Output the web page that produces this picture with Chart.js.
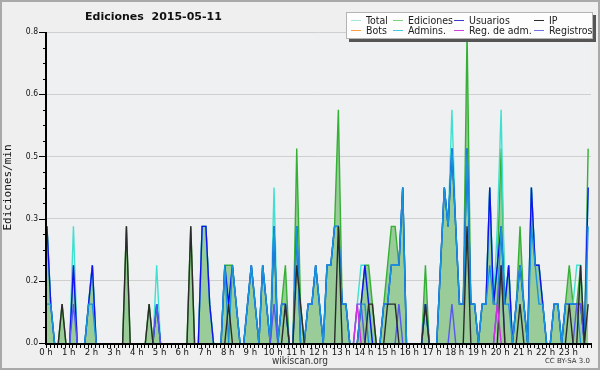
<!DOCTYPE html>
<html>
<head>
<meta charset="utf-8">
<script src="https://cdn.jsdelivr.net/npm/chart.js@4/dist/chart.umd.min.js"></script>
<style>
  html, body { margin: 0; padding: 0; background: #efefef; }
  #wrap { position: relative; width: 600px; height: 370px; overflow: hidden; }
  #chart { position: absolute; left: 0; top: 0; }
  #frame { position: absolute; left: 0; top: 0; width: 600px; height: 370px; box-sizing: border-box;
           border: 2px solid #a9a9a9; pointer-events: none; }
  #title { position: absolute; left: 85px; top: 10px; font: bold 11px "DejaVu Sans", sans-serif;
           white-space: pre; color: #111; }
  #legend { position: absolute; left: 346px; top: 12px; width: 245px; height: 25px; background: #fdfdfd;
            border: 1px solid #b4b4b4; box-shadow: 3px 3px 0 #555; }
  .sw { position: absolute; width: 10px; height: 1px; }
  .lt { position: absolute; font: 10.5px "DejaVu Sans Condensed", "Liberation Sans", sans-serif;
        font-stretch: condensed; color: #222; line-height: 10px; white-space: nowrap; }
  #site { position: absolute; left: 0; width: 600px; top: 355px; text-align: center;
          font: 10px "DejaVu Sans Condensed", "Liberation Sans", sans-serif; font-stretch: condensed; color: #333; }
  #lic { position: absolute; right: 10px; top: 357px; font: 7px "DejaVu Sans", sans-serif; color: #333; }
</style>
</head>
<body>
<div id="wrap">
  <canvas id="chart" width="600" height="370"></canvas>
  <div id="title">Ediciones  2015-05-11</div>
  <div id="legend"></div>
  <div id="site">wikiscan.org</div>
  <div id="lic">CC BY-SA 3.0</div>
  <div id="frame"></div>
</div>
<script>
// 10-minute bins, 6 per hour, 144 per day
const hourLabels = ['0 h','1 h','2 h','3 h','4 h','5 h','6 h','7 h','8 h','9 h','10 h','11 h',
  '12 h','13 h','14 h','15 h','16 h','17 h','18 h','19 h','20 h','21 h','22 h','23 h'];
const binsPerHour = 6;
const binOffset = 0.25;

const ediciones = [
  .3,.1,0,0,.1,0, 0,.2,0,0,0,.1, .2,0,0,0,0,0, 0,0,0,.3,0,0,
  0,0,0,.1,0,.1, 0,0,0,0,0,0, 0,0,.3,0,0,.3, .3,.1,0,0,0,.2,
  .2,.2,.1,0,0,.1, .2,.1,0,.2,.1,0, .3,0,.1,.2,0,0, .5,.1,0,.1,.1,.2,
  .1,0,.2,.2,.3,.6, .1,.1,0,0,0,.1, .2,.2,.1,0,0,.1, .2,.3,.3,.2,.4,0,
  0,0,0,0,.2,0, 0,0,.2,.4,.3,.5, .3,.1,.1,.8,.1,.1, 0,.1,.1,.4,.1,.2,
  .5,.1,.2,0,.1,.3, .1,0,.4,.2,.2,.1, 0,0,.1,.1,0,.1, .2,.1,.1,.2,0,.5
];
const total = [
  .3,.1,0,0,0,0, 0,.3,0,0,0,.1, .2,0,0,0,0,0, 0,0,0,0,0,0,
  0,0,0,0,0,.2, 0,0,0,0,0,0, 0,0,0,0,0,.3, .3,.1,0,0,0,.2,
  .1,.2,.1,0,0,.1, .2,.1,0,.2,.1,0, .4,0,.1,.1,0,0, .3,0,0,.1,.1,.2,
  .1,0,.2,.2,.3,.3, .1,.1,0,0,.1,.2, .2,.1,0,0,0,.1, .1,.2,.2,.2,.4,0,
  0,0,0,0,.1,0, 0,0,.2,.4,.3,.6, .3,.1,.1,.5,.1,.1, 0,.1,.1,.4,.1,.3,
  .6,.1,.2,0,.1,.2, .1,0,.4,.2,.2,.1, 0,0,.1,.1,0,.1, .1,.1,.2,.2,0,.4
];
const usuarios = [
  .3,.1,0,0,0,0, 0,.2,0,0,0,.1, .2,0,0,0,0,0, 0,0,0,0,0,0,
  0,0,0,0,0,.1, 0,0,0,0,0,0, 0,0,0,0,0,.3, .3,.1,0,0,0,.2,
  .1,.2,.1,0,0,.1, .2,.1,0,.2,.1,0, .3,0,.1,.1,0,0, .3,0,0,.1,.1,.2,
  .1,0,.2,.2,.3,.3, .1,.1,0,0,0,.1, .2,.1,0,0,0,.1, .1,.2,.2,.2,.4,0,
  0,0,0,0,.1,0, 0,0,.2,.4,.3,.5, .3,.1,.1,.5,.1,.1, 0,.1,.1,.4,.1,.2,
  .3,.1,.2,0,.1,.2, .1,0,.4,.2,.2,.1, 0,0,.1,.1,0,.1, .1,.1,.1,.1,0,.4
];
const ip = [
  0,0,0,0,.1,0, 0,0,0,0,0,0, 0,0,0,0,0,0, 0,0,0,.3,0,0,
  0,0,0,.1,0,0, 0,0,0,0,0,0, 0,0,.3,0,0,0, 0,0,0,0,0,0,
  .1,0,0,0,0,0, 0,0,0,0,0,0, 0,0,0,.1,0,0, .2,.1,0,0,0,0,
  0,0,0,0,0,.3, 0,0,0,0,0,0, 0,.1,.1,0,0,0, .1,.1,.1,0,0,0,
  0,0,0,0,.1,0, 0,0,0,0,0,0, 0,0,0,.3,0,0, 0,0,0,0,0,0,
  .2,0,0,0,0,.1, 0,0,0,0,0,0, 0,0,0,0,0,0, .1,0,0,.2,0,.1
];
const admins = [
  .1,.1,0,0,0,0, 0,0,0,0,0,.1, .1,0,0,0,0,0, 0,0,0,0,0,0,
  0,0,0,0,0,0, 0,0,0,0,0,0, 0,0,0,0,0,0, 0,0,0,0,0,.2,
  0,.2,.1,0,0,.1, .2,.1,0,.2,.1,0, .3,0,.1,.1,0,0, .3,0,0,.1,.1,.2,
  .1,0,.2,.2,.3,.3, .1,.1,0,0,0,.1, .1,0,0,0,0,.1, .1,.2,.2,.2,.4,0,
  0,0,0,0,.1,0, 0,0,.2,.4,.3,.5, .3,.1,.1,.5,.1,.1, 0,.1,.1,.2,.1,.1,
  .3,.1,.1,0,.1,.2, .1,0,.3,.2,.1,.1, 0,0,.1,.1,0,.1, .1,.1,.1,0,0,.3
];
const registros = [
  0,0,0,0,0,0, 0,.1,0,0,0,0, 0,0,0,0,0,0, 0,0,0,0,0,0,
  0,0,0,0,0,.1, 0,0,0,0,0,0, 0,0,0,0,0,0, 0,0,0,0,0,0,
  0,0,0,0,0,0, 0,0,0,0,0,0, .1,0,0,0,0,0, 0,0,0,0,0,0,
  0,0,0,0,0,0, 0,0,0,0,.1,.1, 0,0,0,0,0,0, 0,0,0,.1,0,0,
  0,0,0,0,0,0, 0,0,0,0,0,.1, 0,0,0,0,0,0, 0,0,0,0,0,.1,
  .2,0,0,0,0,0, 0,0,0,0,0,0, 0,0,0,0,0,0, 0,0,.1,.1,0,0
];
const regAdm = [
  0,0,0,0,0,0, 0,0,0,0,0,0, 0,0,0,0,0,0, 0,0,0,0,0,0,
  0,0,0,0,0,0, 0,0,0,0,0,0, 0,0,0,0,0,0, 0,0,0,0,0,0,
  0,0,0,0,0,0, 0,0,0,0,0,0, 0,0,0,0,0,0, 0,0,0,0,0,0,
  0,0,0,0,0,0, 0,0,0,0,.1,0, 0,0,0,0,0,0, 0,0,0,0,0,0,
  0,0,0,0,0,0, 0,0,0,0,0,0, 0,0,0,0,0,0, 0,0,0,0,0,.1,
  0,0,0,0,0,0, 0,0,0,0,0,0, 0,0,0,0,0,0, 0,0,0,0,0,0
];

const legendItems = [
  { label: 'Total', color: '#a8e6dc', col: 0, row: 0 },
  { label: 'Ediciones', color: '#7fd07f', col: 1, row: 0 },
  { label: 'Usuarios', color: '#3a3ad0', col: 2, row: 0 },
  { label: 'IP', color: '#2a2a2a', col: 3, row: 0 },
  { label: 'Bots', color: '#ffa040', col: 0, row: 1 },
  { label: 'Admins.', color: '#40c8e0', col: 1, row: 1 },
  { label: 'Reg. de adm.', color: '#d040e0', col: 2, row: 1 },
  { label: 'Registros', color: '#7070e8', col: 3, row: 1 }
];

(function buildLegend() {
  const box = document.getElementById('legend');
  const colX = [4, 46, 107, 187];
  const rowY = [2, 12];
  legendItems.forEach(item => {
    const sw = document.createElement('div');
    sw.className = 'sw';
    sw.style.left = colX[item.col] + 'px';
    sw.style.top = (rowY[item.row] + 5) + 'px';
    sw.style.background = item.color;
    box.appendChild(sw);
    const t = document.createElement('div');
    t.className = 'lt';
    t.style.left = (colX[item.col] + 15) + 'px';
    t.style.top = rowY[item.row] + 'px';
    t.textContent = item.label;
    box.appendChild(t);
  });
})();

function toPoints(values) {
  return values.map((v, i) => ({ x: i + binOffset, y: v }));
}

// segments lying flat on the zero line are not drawn (the axis covers them in the original)
const hideFlatZero = c => (c.p0.parsed.y === 0 && c.p1.parsed.y === 0) ? 'rgba(0,0,0,0)' : undefined;

function lineSet(label, values, color, order, extra = {}) {
  return Object.assign({
    label,
    data: toPoints(values),
    borderColor: color,
    borderWidth: 1.4,
    pointRadius: 0,
    tension: 0,
    fill: false,
    order,
    segment: { borderColor: hideFlatZero }
  }, extra);
}

const isMajor = v => Math.round(v * 100) % 16 === 0;

const frame = {
  id: 'frame',
  beforeDraw(chart) {
    const { ctx, chartArea: a } = chart;
    ctx.save();
    ctx.fillStyle = '#eef0f2';
    ctx.fillRect(a.left, a.top, a.right - a.left, a.bottom - a.top);
    ctx.restore();
  },
  afterDatasetsDraw(chart) {
    const { ctx, chartArea: a, scales } = chart;
    const x = scales.x, y = scales.y;
    ctx.save();
    ctx.strokeStyle = '#000';
    ctx.lineWidth = 1;
    ctx.beginPath();
    y.ticks.forEach(t => {
      const py = Math.round(y.getPixelForValue(t.value)) + 0.5;
      const len = isMajor(t.value) ? 7 : 3;
      ctx.moveTo(a.left - len, py);
      ctx.lineTo(a.left, py);
    });
    x.ticks.forEach(t => {
      const px = Math.round(x.getPixelForValue(t.value)) + 0.5;
      ctx.moveTo(px, a.bottom);
      ctx.lineTo(px, a.bottom + 5);
    });
    ctx.stroke();
    ctx.lineWidth = 2;
    ctx.beginPath();
    ctx.moveTo(a.left, a.top);
    ctx.lineTo(a.left, a.bottom + 1);
    ctx.lineTo(a.right, a.bottom + 1);
    ctx.stroke();
    ctx.restore();
  }
};

new Chart(document.getElementById('chart'), {
  type: 'line',
  data: {
    datasets: [
      lineSet('Reg. de adm.', regAdm, '#d030e0', 1),
      lineSet('IP', ip, '#2b2b2b', 2),
      lineSet('Registros', registros, '#5858f0', 3),
      lineSet('Admins.', admins, '#1896dc', 4),
      lineSet('Usuarios', usuarios, '#1010f0', 5),
      lineSet('Total', total, '#40e0d0', 6),
      lineSet('Ediciones', ediciones, '#35b035', 7, { fill: 'origin', backgroundColor: '#99cc99' })
    ]
  },
  options: {
    responsive: false,
    animation: false,
    layout: { padding: { left: 0, right: 9, top: 32, bottom: 0 } },
    plugins: { legend: { display: false }, tooltip: { enabled: false }, title: { display: false } },
    scales: {
      x: {
        type: 'linear',
        min: 0,
        max: hourLabels.length * binsPerHour,
        border: { display: false },
        grid: { display: false, drawTicks: false },
        afterFit: s => { s.height = 27; },
        ticks: {
          stepSize: 1,
          autoSkip: false,
          maxRotation: 0,
          minRotation: 0,
          padding: 4,
          color: '#111',
          font: { family: '"DejaVu Sans Condensed", "Liberation Sans", sans-serif', size: 9.5 },
          callback: v => (v % binsPerHour === 0 && v / binsPerHour < hourLabels.length) ? hourLabels[v / binsPerHour] : ''
        }
      },
      y: {
        min: 0,
        max: 0.8,
        border: { display: false },
        grid: {
          drawTicks: false,
          color: c => (c.tick && c.tick.value > 0 && isMajor(c.tick.value)) ? '#cfcfcf' : 'rgba(0,0,0,0)',
          lineWidth: 1
        },
        afterFit: s => { s.width = 46; },
        ticks: {
          stepSize: 0.04,
          padding: 8,
          color: '#111',
          font: { family: '"DejaVu Sans Condensed", "Liberation Sans", sans-serif', size: 8.5 },
          callback: v => isMajor(v) ? v.toFixed(1) : ''
        },
        title: {
          display: true,
          text: 'Ediciones/min',
          color: '#111',
          padding: { top: 2, bottom: 0 },
          font: { family: '"DejaVu Sans Mono", monospace', size: 11 }
        }
      }
    }
  },
  plugins: [frame]
});
</script>
</body>
</html>
